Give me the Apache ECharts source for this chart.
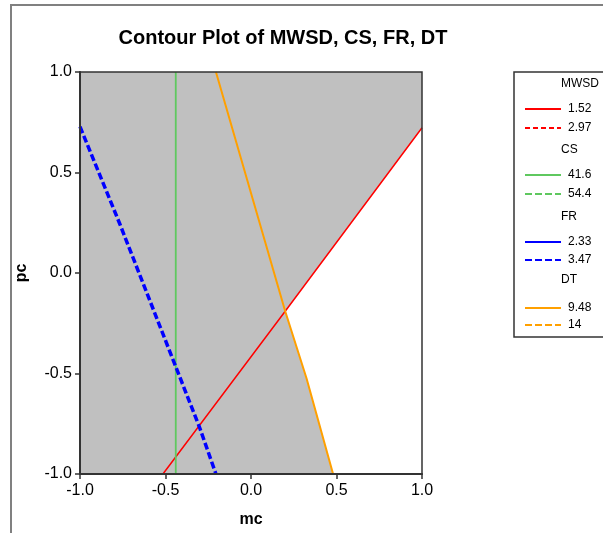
<!DOCTYPE html>
<html>
<head>
<meta charset="utf-8">
<script src="https://cdn.jsdelivr.net/npm/echarts@6/dist/echarts.min.js"></script>
<style>
  html, body { margin: 0; padding: 0; background: #fff; }
  #chart { width: 603px; height: 533px; }
</style>
</head>
<body>
<div id="chart"></div>
<script>
// Contour lines (mc, pc) for each response at the level that crosses the plot
const mwsdLow = [[-0.515, -1.0], [0.20, -0.19], [1.0, 0.723]];
const csLow = [[-0.44, -1.0], [-0.44, 1.0]];
const frHigh = [[-1.0, 0.728], [-0.77, 0.25], [-0.30, -0.77], [-0.205, -1.0]];
const dtLow = [[-0.205, 1.0], [0.20, -0.19], [0.325, -0.525], [0.48, -1.0]];

// Contour levels shown in the legend
const mwsdLevels = ['1.52', '2.97'];
const csLevels = ['41.6', '54.4'];
const frLevels = ['2.33', '3.47'];
const dtLevels = ['9.48', '14'];

// Axis tick values
const tickValues = [-1.0, -0.5, 0.0, 0.5, 1.0];

// Intersection of two polylines (first hit)
function intersect(a, b) {
  for (let i = 0; i < a.length - 1; i++) {
    for (let j = 0; j < b.length - 1; j++) {
      const [x1, y1] = a[i], [x2, y2] = a[i + 1];
      const [x3, y3] = b[j], [x4, y4] = b[j + 1];
      const d = (x1 - x2) * (y3 - y4) - (y1 - y2) * (x3 - x4);
      if (Math.abs(d) < 1e-12) continue;
      const t = ((x1 - x3) * (y3 - y4) - (y1 - y3) * (x3 - x4)) / d;
      const u = -((x1 - x2) * (y1 - y3) - (y1 - y2) * (x1 - x3)) / d;
      if (t >= -1e-9 && t <= 1 + 1e-9 && u >= -1e-9 && u <= 1 + 1e-9) {
        return [x1 + t * (x2 - x1), y1 + t * (y2 - y1)];
      }
    }
  }
  return null;
}

// Shaded (infeasible) region: everything except the area below MWSD and right of DT
const cross = intersect(mwsdLow, dtLow);
const xMin = tickValues[0], xMax = tickValues[tickValues.length - 1];
const yMin = tickValues[0], yMax = tickValues[tickValues.length - 1];
const shaded = [[xMin, yMin]]
  .concat(dtLow.filter(p => p[1] < cross[1] - 1e-9).reverse())
  .concat([cross])
  .concat(mwsdLow.filter(p => p[0] > cross[0] + 1e-9))
  .concat([[xMax, yMax], [xMin, yMax]]);

const FONT = 'Liberation Sans';
const RED = '#ff0000', GREEN = '#5fc85f', BLUE = '#0000ff', ORANGE = '#ffa000';

function contour(name, data, color, width, dash) {
  return {
    name: name,
    type: 'line',
    data: data,
    symbol: 'none',
    silent: true,
    animation: false,
    z: 6,
    lineStyle: { color: color, width: width, type: dash || 'solid', cap: 'butt' },
    itemStyle: { color: color }
  };
}

function levelLegend(names, top, gap) {
  return {
    data: names,
    orient: 'vertical',
    left: 519,
    top: top,
    itemWidth: 36,
    itemHeight: 14,
    itemGap: gap,
    selectedMode: false,
    itemStyle: { opacity: 0, borderWidth: 0 },
    textStyle: { fontFamily: FONT, fontSize: 12, color: '#000', padding: [0, 0, 0, 2] }
  };
}

function header(text, top) {
  return { type: 'text', silent: true, z: 100, left: 561, top: top,
    style: { text: text, font: '12px "Liberation Sans"', fill: '#000' } };
}

const chart = echarts.init(document.getElementById('chart'), null, { renderer: 'canvas' });

chart.setOption({
  animation: false,
  backgroundColor: '#ffffff',
  title: {
    text: 'Contour Plot of MWSD, CS, FR, DT',
    left: 278,
    textAlign: 'center',
    top: 23,
    textStyle: { fontFamily: FONT, fontSize: 20, fontWeight: 'bold', color: '#000' }
  },
  grid: {
    left: 80, right: 181, top: 72, bottom: 57,
    show: true,
    z: 10,
    backgroundColor: 'transparent',
    borderColor: '#333',
    borderWidth: 1.5
  },
  xAxis: {
    type: 'value',
    z: 10,
    min: xMin, max: xMax, interval: 0.5,
    name: 'mc',
    nameLocation: 'middle',
    nameGap: 38,
    nameTextStyle: { fontFamily: FONT, fontSize: 16, fontWeight: 'bold', color: '#000' },
    axisLine: { show: true, onZero: false, lineStyle: { color: '#333', width: 2 } },
    axisTick: { show: true, inside: false, length: 5, lineStyle: { color: '#333', width: 1.5 } },
    axisLabel: { fontFamily: FONT, fontSize: 16, color: '#000', margin: 9,
      formatter: v => v.toFixed(1) },
    splitLine: { show: false }
  },
  yAxis: {
    type: 'value',
    z: 10,
    min: yMin, max: yMax, interval: 0.5,
    name: 'pc',
    nameLocation: 'middle',
    nameGap: 50,
    nameRotate: 90,
    nameTextStyle: { fontFamily: FONT, fontSize: 16, fontWeight: 'bold', color: '#000' },
    axisLine: { show: true, onZero: false, lineStyle: { color: '#333', width: 2 } },
    axisTick: { show: true, inside: false, length: 5, lineStyle: { color: '#333', width: 1.5 } },
    axisLabel: { fontFamily: FONT, fontSize: 16, color: '#000', margin: 8,
      formatter: v => v.toFixed(1) },
    splitLine: { show: false }
  },
  legend: [
    levelLegend(mwsdLevels, 98, 7),
    levelLegend(csLevels, 164, 7),
    levelLegend(frLevels, 231, 6),
    levelLegend(dtLevels, 297, 5)
  ],
  graphic: [
    // outer frame
    { type: 'polyline', silent: true, z: 100,
      shape: { points: [[11, 540], [11, 5], [610, 5]] },
      style: { stroke: '#808080', lineWidth: 2, fill: null } },
    // legend box
    { type: 'rect', silent: true, z: 100,
      shape: { x: 514, y: 72, width: 100, height: 265 },
      style: { stroke: '#333', lineWidth: 1.5, fill: null } },
    header('MWSD', 78),
    header('CS', 144),
    header('FR', 211),
    header('DT', 274)
  ],
  series: [
    {
      // grey shaded region, placed through the cartesian axes
      type: 'custom',
      z: 3,
      data: [[0, 0]],
      renderItem: function (params, api) {
        const pts = shaded.map(p => api.coord(p));
        return { type: 'polygon', shape: { points: pts }, style: { fill: '#c0c0c0' } };
      }
    },
    contour(mwsdLevels[0], mwsdLow, RED, 1.5),
    contour(mwsdLevels[1], [], RED, 4, [5, 3]),
    contour(csLevels[0], csLow, GREEN, 1.8),
    contour(csLevels[1], [], GREEN, 3, [7, 3]),
    contour(frLevels[0], [], BLUE, 2),
    contour(frLevels[1], frHigh, BLUE, 3.5, [7, 3]),
    contour(dtLevels[0], dtLow, ORANGE, 2),
    contour(dtLevels[1], [], ORANGE, 3, [7, 3])
  ]
});
</script>
</body>
</html>
